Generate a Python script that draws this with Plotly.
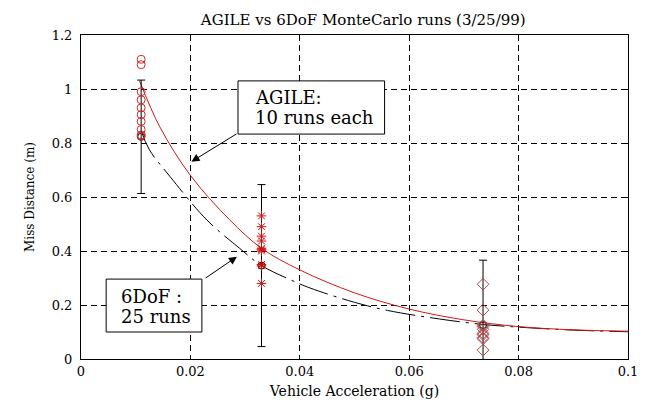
import plotly.graph_objects as go

# ---- data ----
accel = [0.011, 0.033, 0.0735]

agile_runs_1 = [1.11, 1.09, 0.99, 0.96, 0.93, 0.905, 0.88, 0.85, 0.83, 0.825]
agile_runs_2 = [0.53, 0.49, 0.455, 0.437, 0.41, 0.405, 0.40, 0.35, 0.345, 0.28]
agile_runs_3 = [0.277, 0.181, 0.125, 0.12, 0.11, 0.095, 0.09, 0.079, 0.075, 0.033]

sixdof_mean = [0.823, 0.346, 0.126]
sixdof_err = [0.21, 0.30, 0.24]

agile_curve_x = [0.0107, 0.0144, 0.02, 0.0272, 0.033, 0.04, 0.05, 0.06, 0.07, 0.08, 0.09, 0.1]
agile_curve_y = [1.03, 0.86, 0.68, 0.515, 0.41, 0.33, 0.245, 0.185, 0.145, 0.12, 0.108, 0.103]

sixdof_curve_x = [0.011, 0.0125, 0.0163, 0.023, 0.029, 0.033, 0.038, 0.042, 0.05, 0.056, 0.0656, 0.0735, 0.08, 0.09, 0.1]
sixdof_curve_y = [0.845, 0.775, 0.675, 0.515, 0.41, 0.346, 0.296, 0.262, 0.21, 0.18, 0.148, 0.128, 0.118, 0.107, 0.101]

title_text = "AGILE vs 6DoF MonteCarlo runs (3/25/99)"
x_title = "Vehicle Acceleration (g)"
y_title = "Miss Distance (m)"
agile_note = ["AGILE:", "10 runs each"]
sixdof_note = ["6DoF :", "25 runs"]

SERIF = "DejaVu Serif, Liberation Serif, serif"

fig = go.Figure()

# fitted curves
fig.add_trace(go.Scatter(x=sixdof_curve_x, y=sixdof_curve_y, mode="lines",
                         line=dict(color="black", width=1, dash="30px,6px,3px,6px", shape="spline"),
                         showlegend=False, hoverinfo="skip"))
fig.add_trace(go.Scatter(x=agile_curve_x, y=agile_curve_y, mode="lines",
                         line=dict(color="#d01818", width=1, shape="spline"),
                         showlegend=False, hoverinfo="skip"))

# 6DoF mean +/- error
fig.add_trace(go.Scatter(x=accel, y=sixdof_mean, mode="markers",
                         marker=dict(symbol="circle-open", size=7, color="black", line=dict(width=1)),
                         error_y=dict(type="data", array=sixdof_err, visible=True,
                                      color="black", thickness=1, width=4),
                         showlegend=False))

# AGILE runs
fig.add_trace(go.Scatter(x=[accel[0]] * len(agile_runs_1), y=agile_runs_1, mode="markers",
                         marker=dict(symbol="circle-open", size=8, color="#cc2a2a", line=dict(width=1)),
                         showlegend=False))
fig.add_trace(go.Scatter(x=[accel[1]] * len(agile_runs_2), y=agile_runs_2, mode="markers",
                         marker=dict(symbol="asterisk-open", size=8, color="#cc1010", line=dict(width=1, color="#cc1010")),
                         showlegend=False))
fig.add_trace(go.Scatter(x=[accel[2]] * len(agile_runs_3), y=agile_runs_3, mode="markers",
                         marker=dict(symbol="diamond-open", size=9, color="#b04848", line=dict(width=1)),
                         showlegend=False))

# note boxes
fig.add_shape(type="rect", xref="x", yref="y", x0=0.0287, x1=0.0555, y0=0.833, y1=1.03,
              line=dict(color="black", width=1), fillcolor="white", layer="above")
fig.add_shape(type="rect", xref="x", yref="y", x0=0.0046, x1=0.0221, y0=0.10, y1=0.296,
              line=dict(color="black", width=1), fillcolor="white", layer="above")

note_font = dict(family=SERIF, size=18, color="black")
for txt, yy in zip(agile_note, [0.967, 0.893]):
    fig.add_annotation(x=0.0314, y=yy, xref="x", yref="y", xanchor="left", yanchor="middle",
                       text=txt, showarrow=False, font=note_font)
for txt, yy in zip(sixdof_note, [0.233, 0.157]):
    fig.add_annotation(x=0.0070, y=yy, xref="x", yref="y", xanchor="left", yanchor="middle",
                       text=txt, showarrow=False, font=note_font)

# arrows
fig.add_annotation(x=0.0202, y=0.731, ax=0.0287, ay=0.837, xref="x", yref="y", axref="x", ayref="y",
                   text="", showarrow=True, arrowhead=2, arrowsize=1.6, arrowwidth=1, arrowcolor="black")
fig.add_annotation(x=0.0285, y=0.379, ax=0.0225, ay=0.296, xref="x", yref="y", axref="x", ayref="y",
                   text="", showarrow=True, arrowhead=2, arrowsize=1.6, arrowwidth=1, arrowcolor="black")

axis_common = dict(showline=True, linecolor="black", linewidth=1, mirror="ticks",
                   ticks="inside", ticklen=4, tickcolor="black",
                   showgrid=True, gridcolor="black", gridwidth=1, griddash="6px,4px",
                   zeroline=False, tickfont=dict(family=SERIF, size=13, color="black"))

fig.update_xaxes(range=[0, 0.1], dtick=0.02, tick0=0,
                 title=dict(text=x_title, font=dict(family=SERIF, size=14, color="black"), standoff=8),
                 **axis_common)
fig.update_yaxes(range=[0, 1.2], dtick=0.2, tick0=0, ticklabelstandoff=5,
                 title=dict(text=y_title, font=dict(family=SERIF, size=12, color="black"), standoff=14),
                 **axis_common)

fig.update_layout(
    width=649, height=407,
    margin=dict(l=81, r=21, t=35, b=48),
    paper_bgcolor="white", plot_bgcolor="white",
    title=dict(text=title_text, xref="paper", x=0.516, xanchor="center", y=0.952, yanchor="middle",
               font=dict(family=SERIF, size=15, color="black")),
    showlegend=False,
)

fig.write_html("out.html", config={"displayModeBar": False},
               post_script="document.body.style.margin='0px';")
